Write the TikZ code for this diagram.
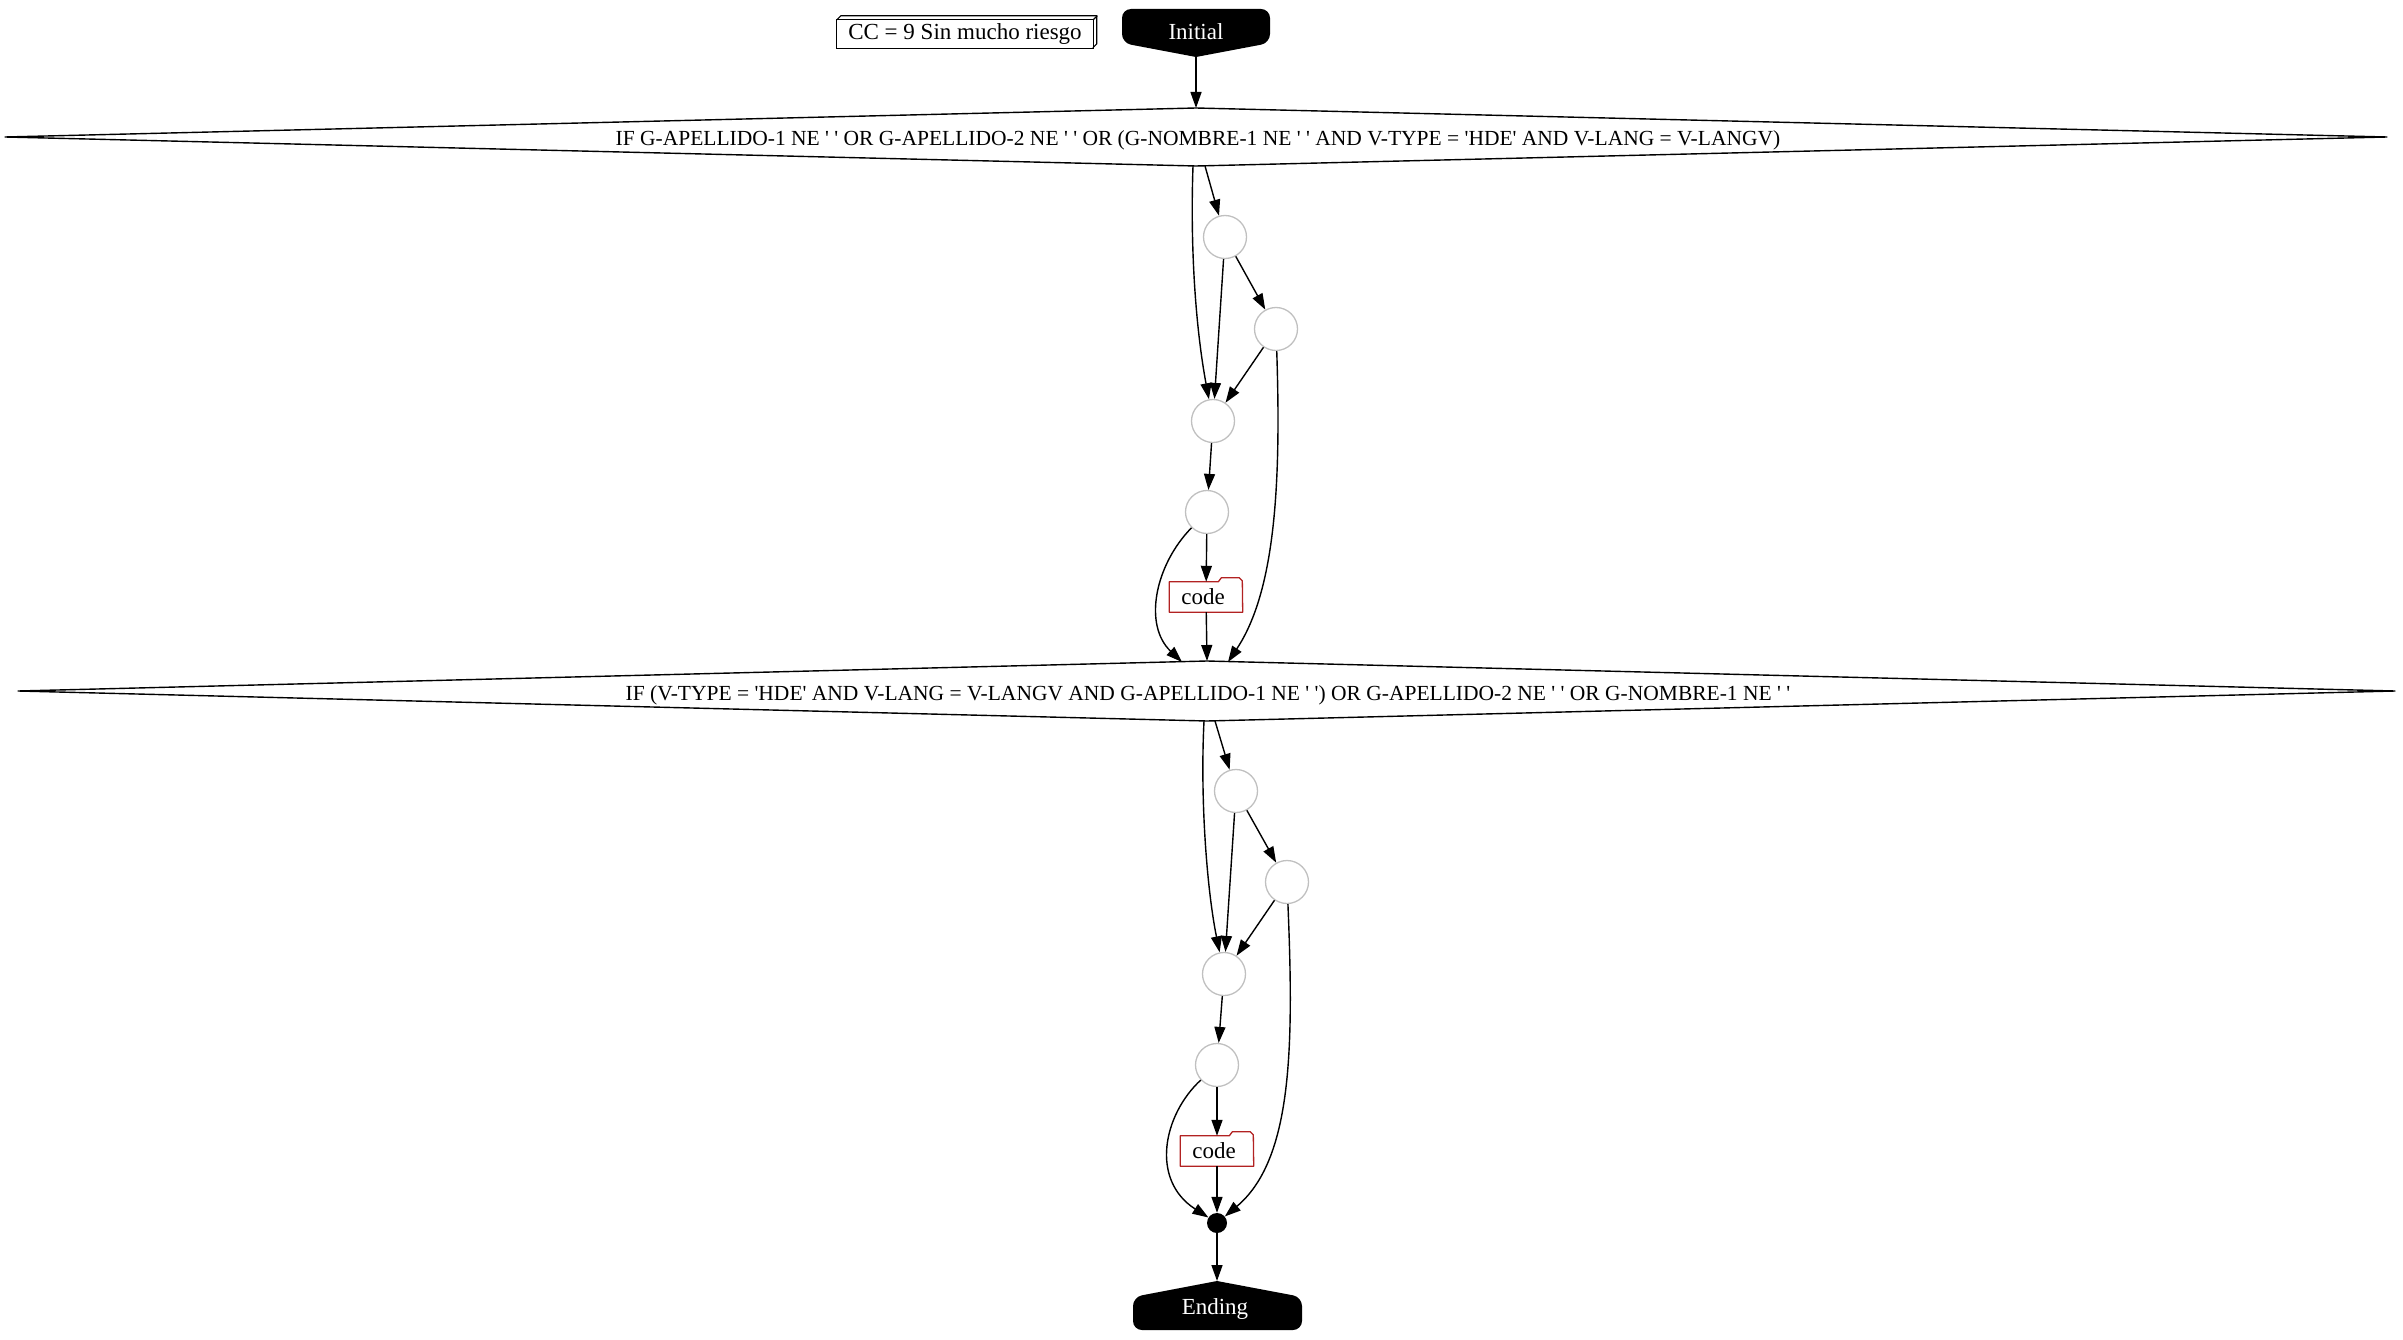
\documentclass[tikz,border=0pt]{standalone}
\usepackage{fontspec}
\setmainfont{Liberation Serif}[Ligatures=TeXOff]
\usetikzlibrary{arrows.meta}
\definecolor{fbrick}{HTML}{B22222}
\definecolor{circgray}{HTML}{C0C0C0}
\begin{document}
\begin{tikzpicture}[x=1pt,y=-1pt,
  every node/.style={font=\fontsize{23}{27}\selectfont},
  edge/.style={line width=1.4pt, -{Triangle[length=16pt,width=11pt]}},
  outline/.style={line width=1.4pt, line join=round},
  circ/.style={circle, draw=circgray, line width=1.3pt, minimum size=43pt, inner sep=0pt},
  codebox/.style={minimum width=73pt, minimum height=30pt, inner sep=0pt},
  folderline/.style={draw=fbrick, line width=1.3pt, line join=round},
  condtext/.style={inner sep=0pt, anchor=base, font=\fontsize{21.5}{25}\selectfont},
  termtext/.style={inner sep=0pt, anchor=base, text=white},
]
\useasboundingbox (0,0) rectangle (2403,1340);

% --- note box (3D) ---
\node[inner sep=0pt, minimum width=256pt, minimum height=28pt] (cc) at (965,34) {CC = 9 Sin mucho riesgo};
\draw[line width=1.2pt] (cc.south west) rectangle (cc.north east);
\draw[line width=1.2pt] (cc.north west) -- ++(4,-4) -- ++(256,0) -- ++(0,28) -- ++(-4,4);
\draw[line width=1.2pt] (cc.north east) -- ++(4,-4);

% --- Initial ---
\fill (1196,57) [rounded corners=9pt] -- (1122,43) -- (1122,9) -- (1270,9) -- (1270,43) [sharp corners] -- cycle;
\node[termtext] (init) at (1196,40) {Initial};
\coordinate (inittip) at (1196,57);

% --- first decision ---
\draw[outline] (5,137) -- (1196,108) -- (2387,137) -- (1196,166) -- cycle;
\node[condtext] (d1) at (1198,146) {IF G-APELLIDO-1 NE ' ' OR G-APELLIDO-2 NE ' ' OR (G-NOMBRE-1 NE ' ' AND V-TYPE = 'HDE' AND V-LANG = V-LANGV)};
\coordinate (d1in) at (1196,108);
\coordinate (d1outA) at (1193,166);
\coordinate (d1outB) at (1205,166);

\node[circ] (c1) at (1225,237) {};
\node[circ] (c2) at (1276,329) {};
\node[circ] (c3) at (1213,421) {};
\node[circ] (c4) at (1207,512) {};
\node[codebox] (code1) at (1206,597) {code\hspace*{6pt}};
\draw[folderline] (code1.south west) -- (code1.north west) -- ++(49,0) -- ++(3,-4) -- ++(18,0) -- ++(3,3) -- (code1.south east) -- cycle;

% --- second decision ---
\draw[outline] (18,691) -- (1207,661) -- (2395,691) -- (1207,721) -- cycle;
\node[condtext] (d2) at (1208,700) {IF (V-TYPE = 'HDE' AND V-LANG = V-LANGV AND G-APELLIDO-1 NE ' ') OR G-APELLIDO-2 NE ' ' OR G-NOMBRE-1 NE ' '};
\coordinate (d2inA) at (1182,662);
\coordinate (d2inB) at (1207,661);
\coordinate (d2inC) at (1228,662);
\coordinate (d2outA) at (1204,721);
\coordinate (d2outB) at (1215,721);

\node[circ] (c5) at (1236,791) {};
\node[circ] (c6) at (1287,882) {};
\node[circ] (c7) at (1224,974) {};
\node[circ] (c8) at (1217,1065) {};
\node[codebox] (code2) at (1217,1151) {code\hspace*{6pt}};
\draw[folderline] (code2.south west) -- (code2.north west) -- ++(49,0) -- ++(3,-4) -- ++(18,0) -- ++(3,3) -- (code2.south east) -- cycle;

\node[circle, fill=black, inner sep=0pt, minimum size=20pt] (dot) at (1217,1223) {};

% --- Ending ---
\fill (1217,1281) [rounded corners=9pt] -- (1302,1297) -- (1302,1330) -- (1133,1330) -- (1133,1297) [sharp corners] -- cycle;
\node[termtext] (end) at (1215,1314) {Ending};
\coordinate (endtip) at (1217,1281);

% --- connectors ---
\draw[edge] (inittip) -- (d1in);
\draw[edge] (d1outB) -- (c1);
\draw[edge] (d1outA) .. controls (1190,250) and (1196,330) .. (c3);
\draw[edge] (c1) -- (c3);
\draw[edge] (c1) -- (c2);
\draw[edge] (c2) -- (c3);
\draw[edge] (c2) .. controls (1281,480) and (1276,590) .. (d2inC);
\draw[edge] (c3) -- (c4);
\draw[edge] (c4) -- (code1);
\draw[edge] (c4) .. controls (1155,565) and (1143,625) .. (d2inA);
\draw[edge] (code1) -- (d2inB);

\draw[edge] (d2outB) -- (c5);
\draw[edge] (d2outA) .. controls (1200,800) and (1207,890) .. (c7);
\draw[edge] (c5) -- (c7);
\draw[edge] (c5) -- (c6);
\draw[edge] (c6) -- (c7);
\draw[edge] (c6) .. controls (1294,1050) and (1292,1160) .. (dot);
\draw[edge] (c7) -- (c8);
\draw[edge] (c8) -- (code2);
\draw[edge] (c8) .. controls (1163,1115) and (1150,1180) .. (dot);
\draw[edge] (code2) -- (dot);
\draw[edge] (dot) -- (endtip);
\end{tikzpicture}
\end{document}
